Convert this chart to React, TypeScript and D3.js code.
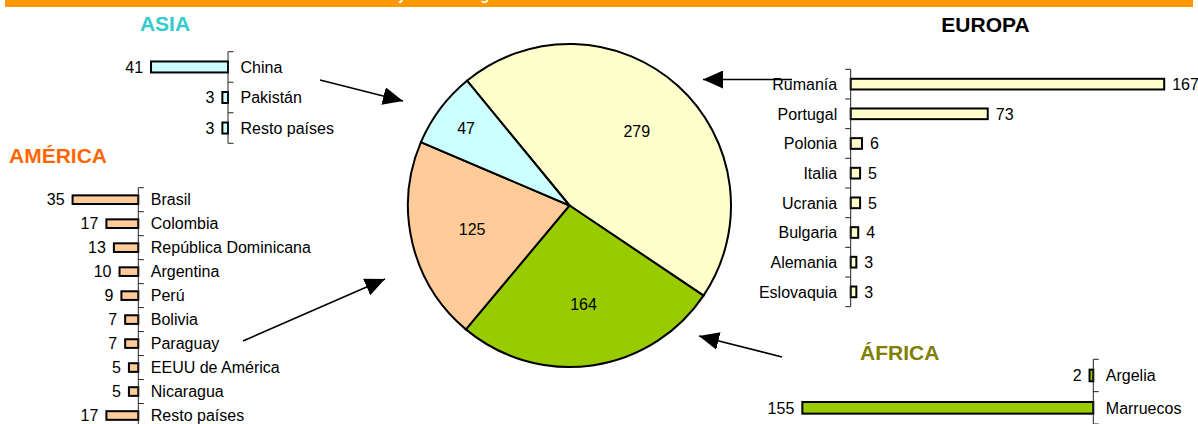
import React from "react";
import * as d3 from "d3";

const regionNames = ["EUROPA", "ÁFRICA", "AMÉRICA", "ASIA"];
const regionTotals = [279, 164, 125, 47];
const regionColors = ["#FFFFCC", "#99CC00", "#FFCC99", "#CCFFFF"];

const asiaCats = ["China", "Pakistán", "Resto países"];
const asiaVals = [41, 3, 3];

const americaCats = [
  "Brasil",
  "Colombia",
  "República Dominicana",
  "Argentina",
  "Perú",
  "Bolivia",
  "Paraguay",
  "EEUU de América",
  "Nicaragua",
  "Resto países",
];
const americaVals = [35, 17, 13, 10, 9, 7, 7, 5, 5, 17];

const europaCats = ["Rumanía", "Portugal", "Polonia", "Italia", "Ucrania", "Bulgaria", "Alemania", "Eslovaquia"];
const europaVals = [167, 73, 6, 5, 5, 4, 3, 3];

const africaCats = ["Argelia", "Marruecos"];
const africaVals = [2, 155];

const FONT = "Arial, 'Liberation Sans', Helvetica, sans-serif";
const W = 1198;
const H = 424;
const LABEL_SIZE = 16;

const valueScale = d3.scaleLinear().domain([0, 167]).range([0, 313.5]);

type PanelProps = {
  cats: string[];
  vals: number[];
  color: string;
  axisX: number;
  y0: number;
  y1: number;
  dir: number; // -1 bars go left, +1 bars go right
};

function BarPanel({ cats, vals, color, axisX, y0, y1, dir }: PanelProps) {
  const y = d3.scaleBand<string>().domain(cats).range([y0, y1]).padding(0);
  const step = y.step();
  const barH = step * 0.36;
  const tickDir = dir === -1 ? 1 : -1;
  const ticks = d3.range(cats.length + 1).map((i) => y0 + i * step);
  return (
    <g>
      {cats.map((c, i) => {
        const len = valueScale(vals[i]);
        const cy = (y(c) as number) + step / 2;
        const x = dir === -1 ? axisX - len : axisX;
        return (
          <g key={c}>
            <rect x={x} y={cy - barH / 2} width={len} height={barH} fill={color} stroke="#000" strokeWidth={2} />
            <text
              x={dir === -1 ? axisX - len - 8 : axisX + len + 8}
              y={cy}
              dy="0.36em"
              textAnchor={dir === -1 ? "end" : "start"}
              fontFamily={FONT}
              fontSize={LABEL_SIZE}
              fill="#000"
            >
              {vals[i]}
            </text>
            <text
              x={dir === -1 ? axisX + 12.5 : axisX - 13.5}
              y={cy}
              dy="0.36em"
              textAnchor={dir === -1 ? "start" : "end"}
              fontFamily={FONT}
              fontSize={LABEL_SIZE}
              fill="#000"
            >
              {c}
            </text>
          </g>
        );
      })}
      <line x1={axisX} x2={axisX} y1={y0} y2={y1} stroke="#222" strokeWidth={1} />
      {ticks.map((t, i) => (
        <line key={i} x1={axisX} x2={axisX + tickDir * 5.5} y1={t} y2={t} stroke="#222" strokeWidth={1} />
      ))}
    </g>
  );
}

export default function App() {
  const cx = 569.5;
  const cy = 205.5;
  const r = 161.5;
  const startA = (-39.4 * Math.PI) / 180;
  const pie = d3
    .pie<number>()
    .sort(null)
    .startAngle(startA)
    .endAngle(startA + 2 * Math.PI)
    .value((d) => d);
  const arcs = pie(regionTotals);
  const arcGen = d3.arc<d3.PieArcDatum<number>>().innerRadius(0).outerRadius(r);

  const arrows = [
    { x1: 320, y1: 80, x2: 403, y2: 101 },
    { x1: 792, y1: 79.5, x2: 703, y2: 79.5 },
    { x1: 243, y1: 341, x2: 385, y2: 279 },
    { x1: 782, y1: 357, x2: 699, y2: 336 },
  ];

  return (
    <svg
      width={W}
      height={H}
      viewBox={`0 0 ${W} ${H}`}
      style={{ position: "absolute", left: 0, top: 0, background: "#fff" }}
    >
      <defs>
        <marker
          id="ah"
          markerUnits="userSpaceOnUse"
          markerWidth={21}
          markerHeight={18}
          refX={20}
          refY={9}
          orient="auto"
        >
          <path d="M0,0 L20,9 L0,18 Z" fill="#000" />
        </marker>
      </defs>

      <rect x={5} y={0} width={1188} height={7} fill="#FF9900" />
      <text x={396} y={0} textAnchor="end" fontFamily={FONT} fontWeight="bold" fontSize={14} fill="#fff">
        Alumnos de otras nacionalidades: total
      </text>
      <text x={398} y={0} textAnchor="start" fontFamily={FONT} fontWeight="bold" fontSize={14} fill="#fff">
        y área de origen
      </text>

      <g transform={`translate(${cx},${cy})`}>
        {arcs.map((a, i) => (
          <path key={regionNames[i]} d={arcGen(a) as string} fill={regionColors[i]} stroke="#000" strokeWidth={2} />
        ))}
        {arcs.map((a, i) => {
          const span = a.endAngle - a.startAngle;
          const lr = span < 0.7 ? r * 0.8 : r * 0.62;
          const mid = (a.startAngle + a.endAngle) / 2;
          const lx = Math.sin(mid) * lr;
          const ly = -Math.cos(mid) * lr;
          return (
            <text
              key={"l" + i}
              x={lx}
              y={ly}
              dy="0.36em"
              textAnchor="middle"
              fontFamily={FONT}
              fontSize={LABEL_SIZE}
              fill="#000"
            >
              {regionTotals[i]}
            </text>
          );
        })}
      </g>

      {arrows.map((a, i) => (
        <line key={i} x1={a.x1} y1={a.y1} x2={a.x2} y2={a.y2} stroke="#000" strokeWidth={1.6} markerEnd="url(#ah)" />
      ))}

      <text x={165} y={30.5} textAnchor="middle" fontFamily={FONT} fontWeight="bold" fontSize={21} fill="#33CCCC">
        ASIA
      </text>
      <text x={985.5} y={31.5} textAnchor="middle" fontFamily={FONT} fontWeight="bold" fontSize={21} fill="#000">
        EUROPA
      </text>
      <text x={9} y={163} textAnchor="start" fontFamily={FONT} fontWeight="bold" fontSize={21} fill="#FF6600">
        AMÉRICA
      </text>
      <text x={860} y={360} textAnchor="start" fontFamily={FONT} fontWeight="bold" fontSize={21} fill="#808000">
        ÁFRICA
      </text>

      <BarPanel cats={asiaCats} vals={asiaVals} color="#CCFFFF" axisX={228} y0={51.7} y1={143.3} dir={-1} />
      <BarPanel cats={americaCats} vals={americaVals} color="#FFCC99" axisX={138.3} y0={187.7} y1={427.5} dir={-1} />
      <BarPanel cats={europaCats} vals={europaVals} color="#FFFFCC" axisX={850.7} y0={69.3} y1={306.7} dir={1} />
      <BarPanel cats={africaCats} vals={africaVals} color="#99CC00" axisX={1093.3} y0={359.3} y1={424} dir={-1} />
    </svg>
  );
}
